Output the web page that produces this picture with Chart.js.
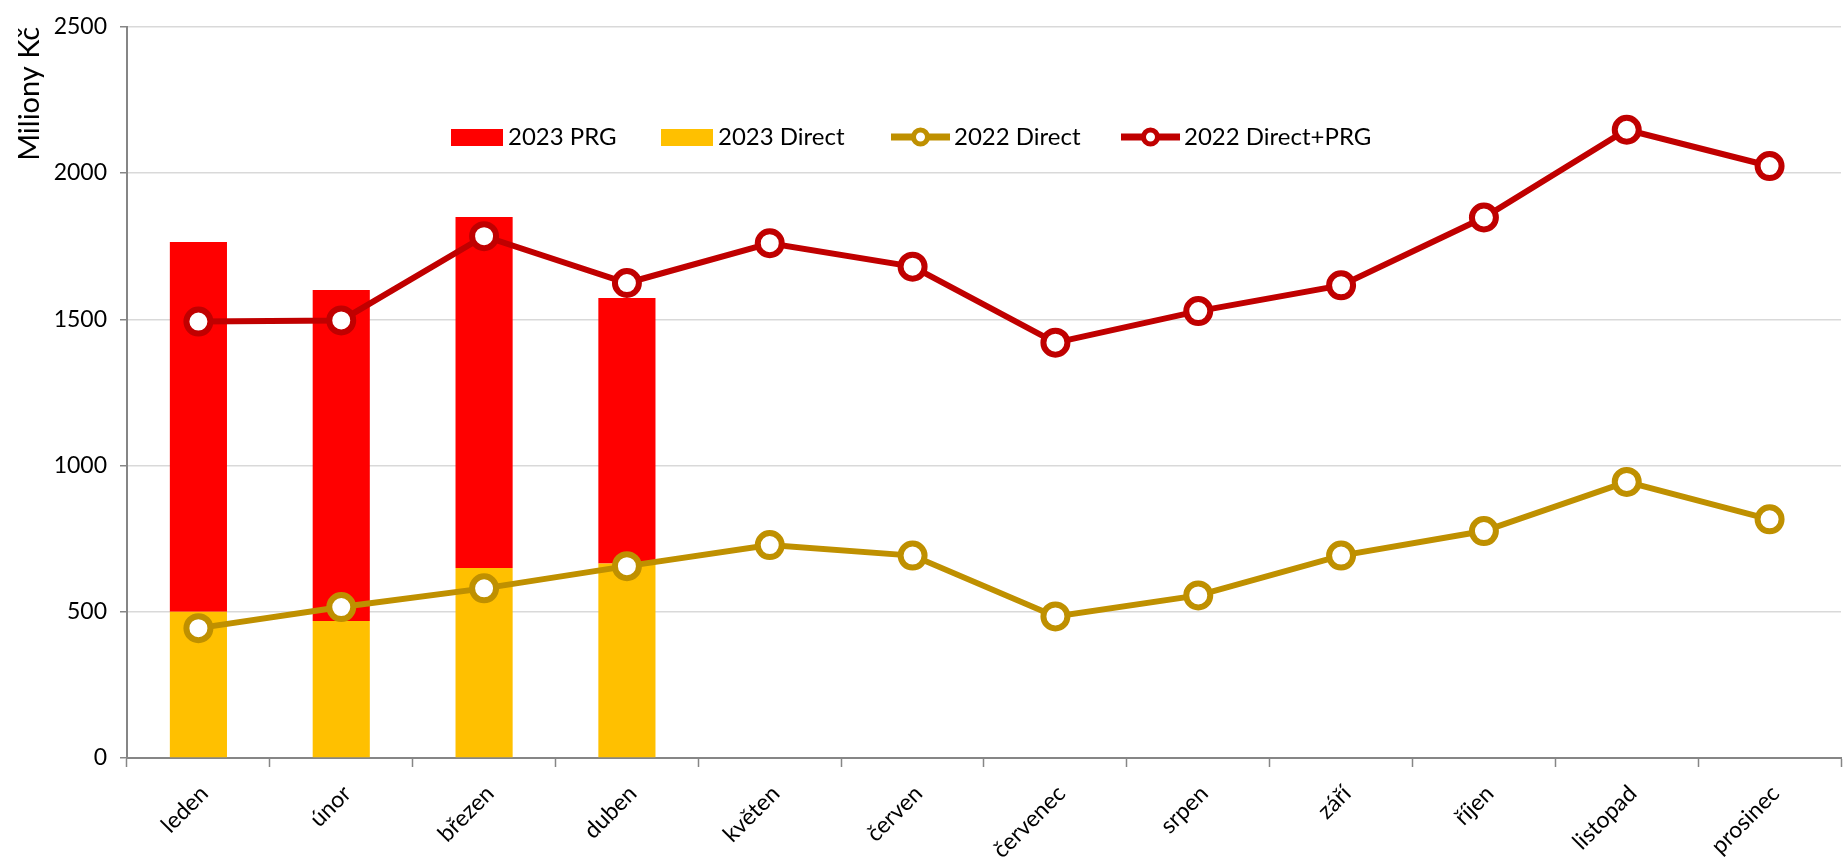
<!DOCTYPE html>
<html>
<head>
<meta charset="utf-8">
<script src="https://cdn.jsdelivr.net/npm/chart.js@4/dist/chart.umd.min.js"></script>
<style>
  html, body { margin: 0; padding: 0; background: #fff; overflow: hidden; }
  #wrap { width: 1845px; height: 861px; }
</style>
</head>
<body>
<div id="wrap"><canvas id="chart"></canvas></div>
<script>
const months = ['leden', 'únor', 'březen', 'duben', 'květen', 'červen', 'červenec', 'srpen', 'září', 'říjen', 'listopad', 'prosinec']

// 2023 bars (stacked)
const direct2023 = [500, 468, 650, 665]
const prg2023 = [1264, 1132, 1200, 908]

// 2022 lines
const direct2022 = [444, 516, 580, 656, 728, 692, 484, 556, 692, 776, 944, 816]
const total2022 = [1492, 1496, 1784, 1624, 1760, 1680, 1420, 1528, 1616, 1848, 2148, 2024]

const yTicks = [0, 500, 1000, 1500, 2000, 2500]

const RED = '#FF0000'
const GOLD = '#FFC000'
const DARK_GOLD = '#BF9000'
const DARK_RED = '#C00000'

const FONT = 'Lato'

// legend drawn inside the plot area, like the original
const legendItems = [
    { label: '2023 PRG', type: 'box', color: RED, x: 451 },
    { label: '2023 Direct', type: 'box', color: GOLD, x: 661 },
    { label: '2022 Direct', type: 'line', color: DARK_GOLD, x: 891 },
    { label: '2022 Direct+PRG', type: 'line', color: DARK_RED, x: 1121 }
]

const insideLegend = {
    id: 'insideLegend',
    afterDatasetsDraw(chart) {
        const ctx = chart.ctx
        const y = 137
        ctx.save()
        ctx.font = '24px ' + FONT
        ctx.textBaseline = 'middle'
        legendItems.forEach(it => {
            if (it.type === 'box') {
                ctx.fillStyle = it.color
                ctx.fillRect(it.x, y - 8, 52, 17)
                ctx.fillStyle = '#000'
                ctx.fillText(it.label, it.x + 57, y)
            } else {
                ctx.strokeStyle = it.color
                ctx.lineWidth = 7
                ctx.beginPath()
                ctx.moveTo(it.x, y)
                ctx.lineTo(it.x + 59, y)
                ctx.stroke()
                ctx.beginPath()
                ctx.arc(it.x + 29.5, y, 7, 0, Math.PI * 2)
                ctx.fillStyle = '#fff'
                ctx.fill()
                ctx.lineWidth = 5
                ctx.stroke()
                ctx.fillStyle = '#000'
                ctx.fillText(it.label, it.x + 63, y)
            }
        })
        ctx.restore()
    }
}

const ctx_chart = document.getElementById('chart')
const chart = new Chart(ctx_chart, {
    type: 'bar',
    data: {
        labels: months,
        datasets: [
            {
                type: 'line',
                label: '2022 Direct+PRG',
                data: total2022,
                borderColor: DARK_RED,
                backgroundColor: '#fff',
                borderWidth: 6,
                pointRadius: 12,
                pointBorderWidth: 6,
                pointBackgroundColor: '#fff',
                pointBorderColor: DARK_RED,
                stack: 'l1',
                order: 1
            },
            {
                type: 'line',
                label: '2022 Direct',
                data: direct2022,
                borderColor: DARK_GOLD,
                backgroundColor: '#fff',
                borderWidth: 6,
                pointRadius: 12,
                pointBorderWidth: 6,
                pointBackgroundColor: '#fff',
                pointBorderColor: DARK_GOLD,
                stack: 'l2',
                order: 1
            },
            {
                label: '2023 Direct',
                data: direct2023,
                backgroundColor: GOLD,
                stack: 'bars',
                order: 2
            },
            {
                label: '2023 PRG',
                data: prg2023,
                backgroundColor: RED,
                stack: 'bars',
                order: 2
            }
        ]
    },
    options: {
        responsive: true,
        maintainAspectRatio: false,
        animation: false,
        layout: {
            autoPadding: false,
            padding: { top: 22, right: 4, left: 0, bottom: 0 }
        },
        datasets: {
            bar: { categoryPercentage: 1, barPercentage: 0.4 }
        },
        plugins: {
            legend: { display: false },
            tooltip: { enabled: false }
        },
        scales: {
            x: {
                stacked: true,
                grid: {
                    display: true,
                    drawOnChartArea: false,
                    drawTicks: true,
                    tickLength: 9,
                    tickColor: '#868686',
                    tickWidth: 1.5,
                    offset: true
                },
                border: { color: '#868686', width: 2 },
                ticks: {
                    color: '#000',
                    font: { family: FONT, size: 23 },
                    maxRotation: 45,
                    minRotation: 45,
                    labelOffset: 6,
                    padding: 13
                },
                afterFit(scale) {
                    scale.height = 103
                    scale.paddingLeft = 0
                    scale.paddingRight = 0
                }
            },
            y: {
                stacked: true,
                min: 0,
                max: 2500,
                afterBuildTicks(scale) { scale.ticks = yTicks.map(v => ({ value: v })) },
                grid: {
                    color: '#D9D9D9',
                    lineWidth: 1.5,
                    tickColor: '#868686',
                    tickLength: 7,
                    tickWidth: 1.5
                },
                border: { color: '#868686', width: 2 },
                ticks: {
                    color: '#000',
                    font: { family: FONT, size: 23 },
                    padding: 13,
                    callback: v => String(v)
                },
                title: {
                    display: true,
                    text: 'Miliony Kč',
                    align: 'end',
                    color: '#000',
                    font: { family: FONT, size: 29 },
                    padding: { top: 12, bottom: 0 }
                },
                afterFit(scale) { scale.width = 127 }
            }
        }
    },
    plugins: [insideLegend]
})
</script>
</body>
</html>
